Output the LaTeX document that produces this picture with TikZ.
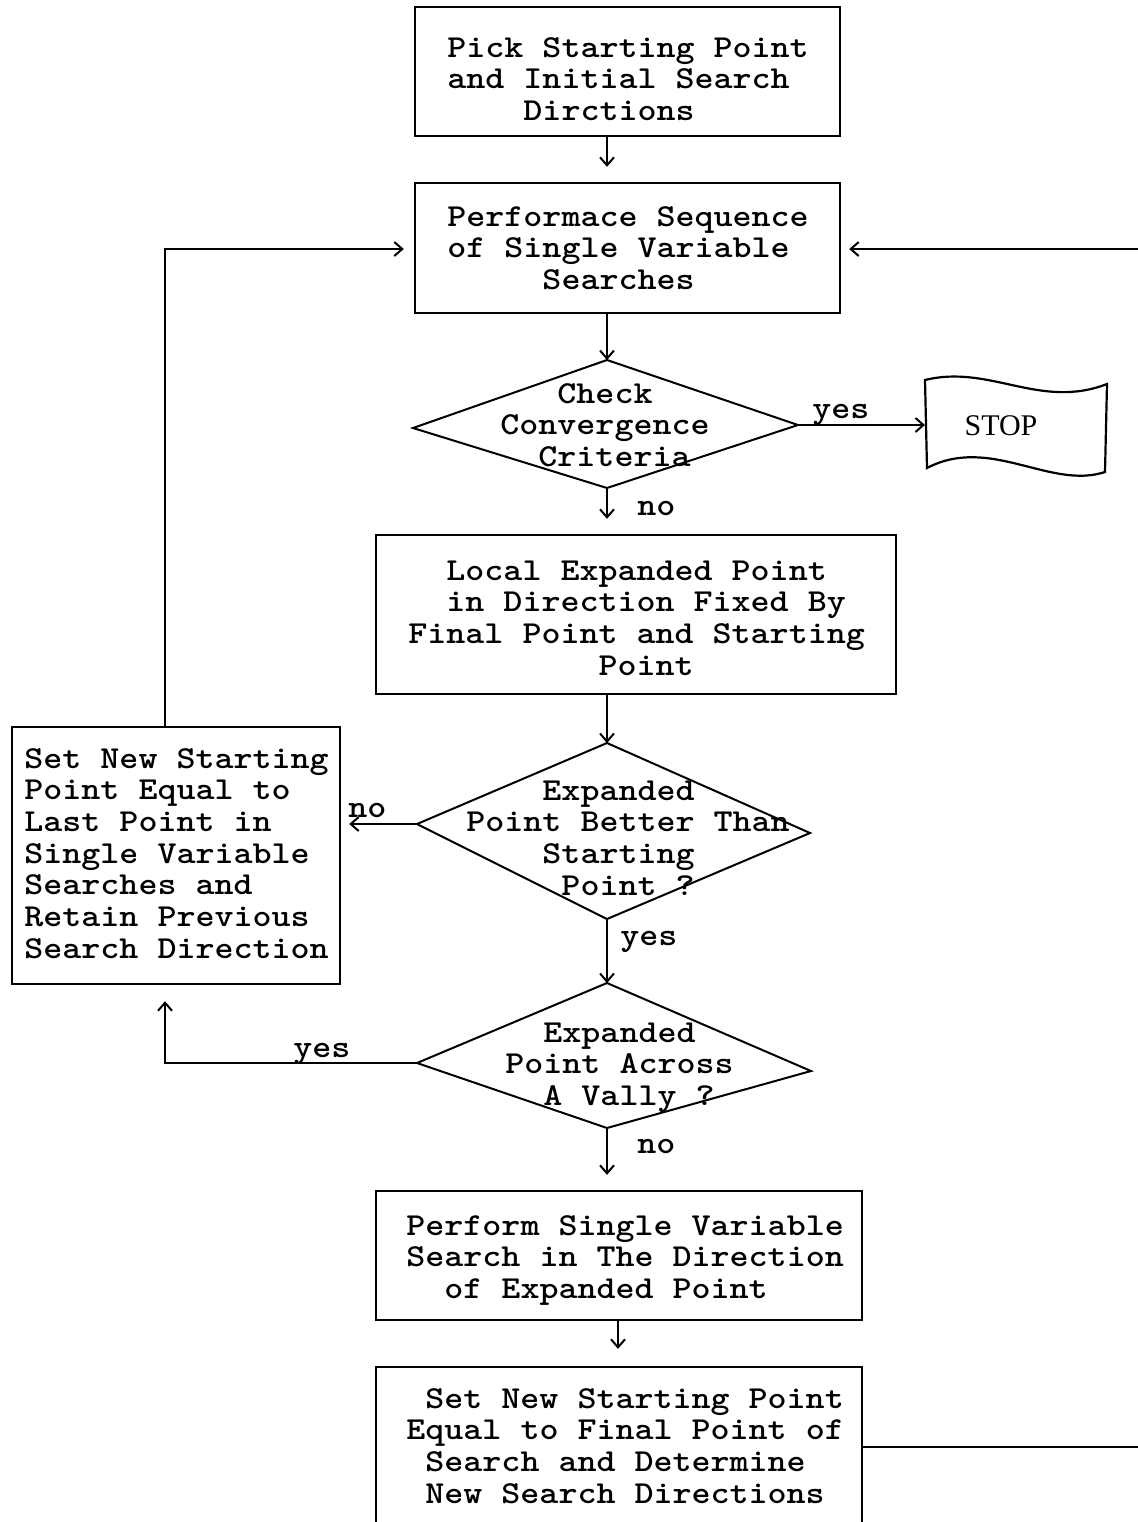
\documentclass[tikz,border=0pt]{standalone}
\usepackage{fontspec}
\usepackage{graphicx}
\newfontfamily\serifam{Liberation Serif}
\usetikzlibrary{arrows.meta,fit}
% typewriter cell width (before the horizontal stretch) and text helpers
\newdimen\charw \charw=8.4pt
\newcommand\pad[1]{\hspace*{#1\charw}}
\newcommand\tw[1]{\scalebox{1.132}[1]{\begin{tabular}[t]{@{}l@{}}#1\end{tabular}}}
\newcommand\flowfont{\ttfamily\bfseries\fontsize{16pt}{15.85pt}\selectfont}
\begin{document}
\begin{tikzpicture}[x=0.5pt,y=-0.5pt,
  box/.style={draw, line width=1.2pt, inner sep=0pt},
  txt/.style={font=\flowfont, inner sep=0pt, anchor=base west},
  conn/.style={line width=1pt},
  arr/.style={conn, -{Straight Barb[length=4pt,width=7pt]}},
  dia/.style={line width=1pt, line join=miter}]

\useasboundingbox (0,0) rectangle (1138,1522);

% process boxes
\node[box, fit={(415,7)(840,136)}] (b1) {};
\node[box, fit={(415,183)(840,313)}] (b2) {};
\node[box, fit={(376,535)(896,694)}] (b3) {};
\node[box, fit={(12,727)(340,984)}] (bl) {};
\node[box, fit={(376,1191)(862,1320)}] (b4) {};
\node[box, fit={(376,1367)(862,1526)}] (b5) {};

% box texts, placed at the first baseline
\node[txt] (t1) at (447,57) {\tw{Pick Starting Point\\and Initial Search\\\pad{4}Dirctions}};
\node[txt] (t2) at (447,226) {\tw{Performace Sequence\\of Single Variable\\\pad{5}Searches}};
\node[txt] (t3) at (408,580) {\tw{\pad{2}Local Expanded Point\\\pad{2}in Direction Fixed By\\Final Point and Starting\\\pad{10}Point}};
\node[txt] (tl) at (24,768) {\tw{Set New Starting\\Point Equal to\\Last Point in\\Single Variable\\Searches and\\Retain Previous\\Search Direction}};
\node[txt] (t4) at (406,1235) {\tw{Perform Single Variable\\Search in The Direction\\\pad{2}of Expanded Point}};
\node[txt] (t5) at (406,1408) {\tw{\pad{1}Set New Starting Point\\Equal to Final Point of\\\pad{1}Search and Determine\\\pad{1}New Search Directions}};

% decision diamonds
\coordinate (d1t) at (607,360);
\coordinate (d1r) at (798,425);
\coordinate (d1b) at (607,488);
\coordinate (d1l) at (413,428);
\draw[dia] (d1t) -- (d1r) -- (d1b) -- (d1l) -- cycle;
\node[txt] (td1) at (500,403) {\tw{\pad{3}Check\\Convergence\\\pad{2}Criteria}};

\coordinate (d2t) at (607,743);
\coordinate (d2r) at (810,833);
\coordinate (d2b) at (607,919);
\coordinate (d2l) at (417,824);
\draw[dia] (d2t) -- (d2r) -- (d2b) -- (d2l) -- cycle;
\node[txt] (td2) at (466,800) {\tw{\pad{4}Expanded\\Point Better Than\\\pad{4}Starting\\\pad{5}Point ?}};

\coordinate (d3t) at (607,983);
\coordinate (d3r) at (811,1071);
\coordinate (d3b) at (607,1128);
\coordinate (d3l) at (417,1063);
\draw[dia] (d3t) -- (d3r) -- (d3b) -- (d3l) -- cycle;
\node[txt] (td3) at (505,1042) {\tw{\pad{2}Expanded\\Point Across\\\pad{2}A Vally ?}};

% terminal
\draw[line width=1.1pt] (925,380) .. controls (990,364) and (1040,410) .. (1107,384)
  -- (1105,472) .. controls (1050,490) and (990,435) .. (927,468) -- cycle;
\node[font=\serifam\fontsize{15pt}{15pt}\selectfont, anchor=base, inner sep=0pt] (stop) at (1001,435) {STOP};
\coordinate (stopin) at (925,425);

% routing helpers
\coordinate (xl) at (165,0);
\coordinate (x4) at (618,0);
\coordinate (xr) at (1141,0);
\coordinate (yloop) at (0,249);

% connectors
\draw[arr, shorten >=7.5pt] (b1.south -| d1t) -- (b2.north -| d1t);
\draw[arr] (b2.south -| d1t) -- (d1t);
\draw[arr] (d1r) -- (stopin);
\draw[arr, shorten >=7.5pt] (d1b) -- (b3.north -| d1b);
\draw[arr] (b3.south -| d2t) -- (d2t);
\draw[arr, shorten >=4pt] (d2l) -- (d2l -| bl.east);
\draw[arr] (d2b) -- (d3t);
\draw[arr, shorten >=8pt] (d3l) -- (d3l -| xl) -- (bl.south -| xl);
\draw[arr, shorten >=7.5pt] (d3b) -- (b4.north -| d3b);
\draw[arr, shorten >=8.5pt] (b4.south -| x4) -- (b5.north -| x4);
\draw[arr, shorten >=5pt] (bl.north -| xl) -- (yloop -| xl) -- (b2.west |- yloop);
\draw[arr, shorten >=4pt] (b5.east) -- (b5.east -| xr) -- (yloop -| xr) -- (b2.east |- yloop);

% branch labels
\node[txt] (l1) at (812,418) {\tw{yes}};
\node[txt] (l2) at (637,515) {\tw{no}};
\node[txt] (l3) at (348,817) {\tw{no}};
\node[txt] (l4) at (620,945) {\tw{yes}};
\node[txt] (l5) at (293,1057) {\tw{yes}};
\node[txt] (l6) at (637,1153) {\tw{no}};
\end{tikzpicture}
\end{document}
